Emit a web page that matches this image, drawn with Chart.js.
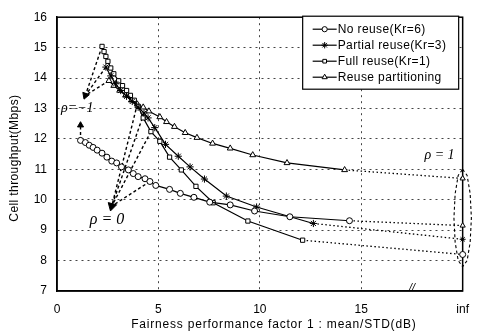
<!DOCTYPE html>
<html><head><meta charset="utf-8">
<script src="https://cdn.jsdelivr.net/npm/chart.js@4"></script>
<style>html,body{margin:0;padding:0;background:#fff}</style>
</head><body><canvas id="c" width="480" height="336"></canvas>
<script>
// ---------- data ----------
const seriesNames = ['No reuse(Kr=6)','Partial reuse(Kr=3)','Full reuse(Kr=1)','Reuse partitioning'];
const xTitle = 'Fairness performance factor 1 : mean/STD(dB)';
const yTitle = 'Cell throughput(Mbps)';
const xTickValues = [0,5,10,15,20];
const xTickLabels = ['0','5','10','15','inf'];
const yTickValues = [7,8,9,10,11,12,13,14,15,16];

const noReuseX = [1.16,1.40,1.59,1.78,1.98,2.22,2.46,2.70,2.94,3.18,3.52,3.76,4.00,4.34,4.58,4.87,5.55,6.08,6.75,7.53,8.54,9.74,11.48,14.42];
const noReuseY = [11.95,11.88,11.79,11.72,11.63,11.53,11.40,11.27,11.21,11.08,10.98,10.86,10.76,10.69,10.60,10.47,10.34,10.21,10.08,9.92,9.83,9.63,9.44,9.31];

const partialX = [2.41,2.65,2.89,3.14,3.43,3.71,4.00,4.29,4.49,4.82,5.35,5.98,6.56,7.27,8.35,9.84,12.64];
const partialY = [14.36,14.07,13.81,13.59,13.40,13.23,13.04,12.85,12.69,12.37,11.82,11.43,11.08,10.68,10.12,9.76,9.22];

const fullX = [2.22,2.32,2.41,2.51,2.65,2.80,3.04,3.23,3.43,3.62,3.81,4.00,4.25,4.63,5.07,5.55,6.13,6.85,7.70,9.41,12.11];
const fullY = [15.04,14.87,14.71,14.55,14.33,14.14,13.91,13.75,13.59,13.43,13.27,13.07,12.69,12.24,11.92,11.40,10.98,10.44,9.90,9.30,8.67];

const partX = [2.56,2.80,3.09,3.38,3.67,3.96,4.25,4.53,5.07,5.40,5.79,6.32,6.90,7.67,8.54,9.65,11.34,14.18];
const partY = [13.91,13.75,13.59,13.43,13.27,13.14,13.04,12.91,12.72,12.56,12.40,12.20,12.04,11.85,11.69,11.47,11.21,10.98];

// values at fairness = inf (rho = 1), order: no reuse, partial, full, partitioning
const infX = 20;
const infY = [9.15, 8.70, 8.20, 10.70];
const infMarker = ['triangle','star','circle','triangle'];

// annotation arrows (rho = -1, rho = 0)
const rhoM1TipX = 1.40, rhoM1TipY = 13.43;
const rhoM1NoReuseTipY = 12.45;
const rhoZeroTipX = 2.70, rhoZeroTipY = 9.79;
const rhoZeroFromX = [3.96, 4.29, 4.63, 4.58];
const rhoZeroFromY = [13.14, 12.85, 12.24, 10.60];

// dashed ellipse around the rho = 1 points
const ellipseX = [20.0,20.22,20.37,20.43,20.37,20.22,20.0,19.78,19.63,19.57,19.63,19.78,20.0];
const ellipseY = [11.0,10.8,10.2,9.4,8.6,8.0,7.8,8.0,8.6,9.4,10.2,10.8,11.0];

const rhoLabelText = ['\u03C1=\u22121','\u03C1 = 0','\u03C1 = 1'];
const rhoLabelX = [1.0, 2.47, 18.86];
const rhoLabelY = [13.0, 9.34, 11.47];
const breakMarkX = 17.5;

// ---------- build ----------
const pts = (xs, ys) => xs.map((x, i) => ({x, y: ys[i]}));
const series = [pts(noReuseX,noReuseY), pts(partialX,partialY), pts(fullX,fullY), pts(partX,partY)];
const styles = ['circle','star','rect','triangle'];
const radii = [3.0, 3.6, 3.0, 3.4];

const GAP = (x) => ({x, y: null});
const rhoM1Lines = [];
[series[2][0], series[1][0], series[3][0]].forEach(p => {
  rhoM1Lines.push(p, {x: rhoM1TipX, y: rhoM1TipY}, GAP(rhoM1TipX));
});
rhoM1Lines.push(series[0][0], {x: series[0][0].x, y: rhoM1NoReuseTipY});
const rhoZeroLines = [];
rhoZeroFromX.forEach((x, i) => {
  rhoZeroLines.push({x, y: rhoZeroFromY[i]}, {x: rhoZeroTipX, y: rhoZeroTipY}, GAP(rhoZeroTipX));
});

const datasets = [];
datasets.push({type:'line', data: rhoM1Lines, borderColor:'#000', borderWidth:1.4, borderDash:[3,2.5], pointRadius:0, spanGaps:false, fill:false, order:5});
datasets.push({type:'line', data: rhoZeroLines, borderColor:'#000', borderWidth:1.4, borderDash:[3,2.5], pointRadius:0, spanGaps:false, fill:false, order:5});
datasets.push({type:'line', data: pts(ellipseX, ellipseY), borderColor:'#000', borderWidth:1.1, borderDash:[3,2.5], pointRadius:0, fill:false, clip:false, order:5});
datasets.push({type:'scatter', data:[{x:rhoM1TipX,y:rhoM1TipY},{x:series[0][0].x,y:rhoM1NoReuseTipY},{x:rhoZeroTipX,y:rhoZeroTipY}],
  pointStyle:'triangle', pointRadius:[4,3.5,5], pointRotation:[200,0,195], pointBackgroundColor:'#000', pointBorderColor:'#000', order:4});
series.forEach((s, i) => {
  const last = s[s.length-1];
  datasets.push({type:'line', data:[last, {x:infX, y:infY[i]}], borderColor:'#000', borderWidth:1.3, borderDash:[1.5,2.5],
    pointRadius:[0, 3], pointStyle:infMarker[i], pointBackgroundColor:'#fff', pointBorderColor:'#000', pointBorderWidth:1, fill:false, clip:false, order:3});
});
series.forEach((s, i) => {
  datasets.push({type:'line', label: seriesNames[i], data: s, borderColor:'#000', borderWidth:1.2, pointStyle: styles[i],
    pointRadius: radii[i], pointBackgroundColor:'#fff', pointBorderColor:'#000', pointBorderWidth:1, fill:false, order:1});
});

const decor = {
  id:'decor',
  beforeDatasetsDraw(chart){
    const {ctx, chartArea:a} = chart;
    ctx.save(); ctx.strokeStyle='#000'; ctx.lineWidth=1.5;
    ctx.strokeRect(a.left, a.top, a.right-a.left, a.bottom-a.top); ctx.restore();
  },
  afterDatasetsDraw(chart){
    const {ctx, chartArea:a, scales} = chart;
    const xs = scales.x, ys = scales.y;
    ctx.save();
    ctx.fillStyle='#000';
    ctx.textAlign='center'; ctx.textBaseline='middle';
    rhoLabelText.forEach((t,i) => {
      ctx.font = (i===1 ? 'italic 16px' : 'italic 14px') + ' "Liberation Serif"';
      ctx.fillText(t, xs.getPixelForValue(rhoLabelX[i]), ys.getPixelForValue(rhoLabelY[i]));
    });
    ctx.font='italic 11px "Liberation Sans"';
    ctx.fillText('//', xs.getPixelForValue(breakMarkX), a.bottom-3);
    // axis titles
    ctx.font='12px "Liberation Sans"';
    ctx.letterSpacing='0.8px';
    ctx.fillText(xTitle, (a.left+a.right)/2 + 14, 325);
    ctx.save();
    ctx.translate(15, (a.top+a.bottom)/2 + 4);
    ctx.rotate(-Math.PI/2);
    ctx.letterSpacing='0.4px';
    ctx.fillText(yTitle, 0, 0);
    ctx.restore();
    // legend
    const L = a.right-160, T = a.top-1, W = 156, H = 73;
    ctx.fillStyle='#fff'; ctx.fillRect(L, T, W, H);
    ctx.strokeStyle='#000'; ctx.lineWidth=1.2; ctx.strokeRect(L, T, W, H);
    ctx.font='12px "Liberation Sans"'; ctx.textAlign='left';
    ctx.letterSpacing='0.4px';
    seriesNames.forEach((name, i) => {
      const y = T + 13 + i*16;
      ctx.strokeStyle='#000'; ctx.lineWidth=1.2;
      ctx.beginPath(); ctx.moveTo(L+10, y); ctx.lineTo(L+34, y); ctx.stroke();
      ctx.fillStyle='#fff'; ctx.lineWidth=1;
      Chart.helpers.drawPoint(ctx, {pointStyle: styles[i], radius: radii[i]-0.4, rotation:0, borderWidth:1}, L+22, y);
      ctx.fillStyle='#000';
      ctx.fillText(name, L+35, y+0.5);
    });
    ctx.restore();
  }
};

const gridColor = (edge) => (c) => (edge.includes(c.tick && c.tick.value) ? 'rgba(0,0,0,0)' : '#444');

new Chart(document.getElementById('c'), {
  type:'line',
  data:{datasets},
  options:{
    responsive:false, animation:false, devicePixelRatio:1,
    layout:{padding:{top:10, right:8, left:0, bottom:0}},
    plugins:{legend:{display:false}, tooltip:{enabled:false}},
    scales:{
      x:{type:'linear', min:0, max:20,
        afterBuildTicks: s => { s.ticks = xTickValues.map(v => ({value:v})); },
        afterFit: s => { s.height = 45; },
        ticks:{callback:(v) => xTickLabels[xTickValues.indexOf(v)], color:'#000', padding:11, maxRotation:0, font:{family:'"Liberation Sans"', size:12}},
        grid:{color:gridColor([0,20]), lineWidth:1, drawTicks:false},
        border:{display:true, color:'#000', width:1.5, dash:[2,4]},
        title:{display:false}
      },
      y:{type:'linear', min:7, max:16,
        afterBuildTicks: s => { s.ticks = yTickValues.map(v => ({value:v})); },
        afterFit: s => { s.width = 57; },
        ticks:{color:'#000', padding:10, font:{family:'"Liberation Sans"', size:12}},
        grid:{color:gridColor([7,16]), lineWidth:1, drawTicks:false},
        border:{display:true, color:'#000', width:1.5, dash:[2,4]},
        title:{display:false}
      }
    }
  },
  plugins:[decor]
});
</script></body></html>
